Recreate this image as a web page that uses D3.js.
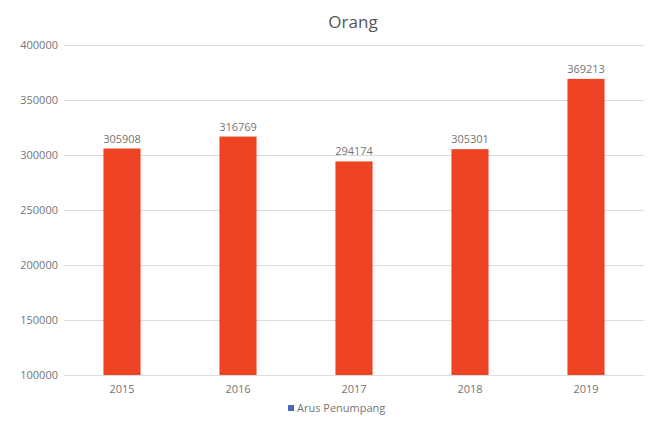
<!DOCTYPE html>
<html>
<head>
<meta charset="utf-8">
<script src="https://cdn.jsdelivr.net/npm/d3@7"></script>
<style>
  body { margin: 0; background: #fff; }
  text { font-family: "Open Sans", sans-serif; }
</style>
</head>
<body>
<div id="chart"></div>
<script>
  const years = ["2015", "2016", "2017", "2018", "2019"];
  const passengers = [305908, 316769, 294174, 305301, 369213];
  const yTicks = [100000, 150000, 200000, 250000, 300000, 350000, 400000];

  const width = 650, height = 421;
  const margin = { top: 45, right: 6, bottom: 46, left: 64 };

  const svg = d3.select("#chart").append("svg")
    .attr("width", width)
    .attr("height", height);

  const x = d3.scaleBand()
    .domain(years)
    .range([margin.left, width - margin.right])
    .paddingInner(0.68)
    .paddingOuter(0.34);

  const y = d3.scaleLinear()
    .domain([100000, 400000])
    .range([height - margin.bottom, margin.top]);

  // gridlines + y labels
  const yAxis = svg.append("g")
    .attr("transform", `translate(${margin.left},0)`)
    .call(d3.axisLeft(y).tickValues(yTicks).tickSize(-(width - margin.left - margin.right)).tickPadding(6).tickFormat(d3.format("d")));
  yAxis.select(".domain").remove();
  yAxis.selectAll(".tick line").attr("stroke", "#dcdcdc").attr("stroke-width", 1);
  yAxis.selectAll(".tick text").attr("fill", "#757575").style("font-size", "11px");

  // bars
  svg.append("g")
    .selectAll("rect")
    .data(passengers)
    .join("rect")
      .attr("x", (d, i) => x(years[i]))
      .attr("y", d => y(d))
      .attr("width", x.bandwidth())
      .attr("height", d => y(100000) - y(d))
      .attr("fill", "#ee4423");

  // value labels
  svg.append("g")
    .selectAll("text")
    .data(passengers)
    .join("text")
      .attr("x", (d, i) => x(years[i]) + x.bandwidth() / 2)
      .attr("y", d => y(d) - 6)
      .attr("text-anchor", "middle")
      .attr("fill", "#757575")
      .style("font-size", "11px")
      .text(d => d);

  // x axis labels
  const xAxis = svg.append("g")
    .attr("transform", `translate(0,${height - margin.bottom})`)
    .call(d3.axisBottom(x).tickSize(0).tickPadding(10));
  xAxis.select(".domain").remove();
  xAxis.selectAll(".tick text").attr("fill", "#757575").style("font-size", "11px");

  // title
  svg.append("text")
    .attr("x", 353)
    .attr("y", 28)
    .attr("text-anchor", "middle")
    .attr("fill", "#555")
    .style("font-size", "17px")
    .text("Orang");

  // legend
  const legend = svg.append("g").attr("transform", "translate(288,412)");
  legend.append("rect")
    .attr("x", 0).attr("y", -7)
    .attr("width", 6).attr("height", 6)
    .attr("fill", "#4a68b8");
  legend.append("text")
    .attr("x", 9).attr("y", 0)
    .attr("fill", "#757575")
    .style("font-size", "11px")
    .text("Arus Penumpang");
</script>
</body>
</html>
